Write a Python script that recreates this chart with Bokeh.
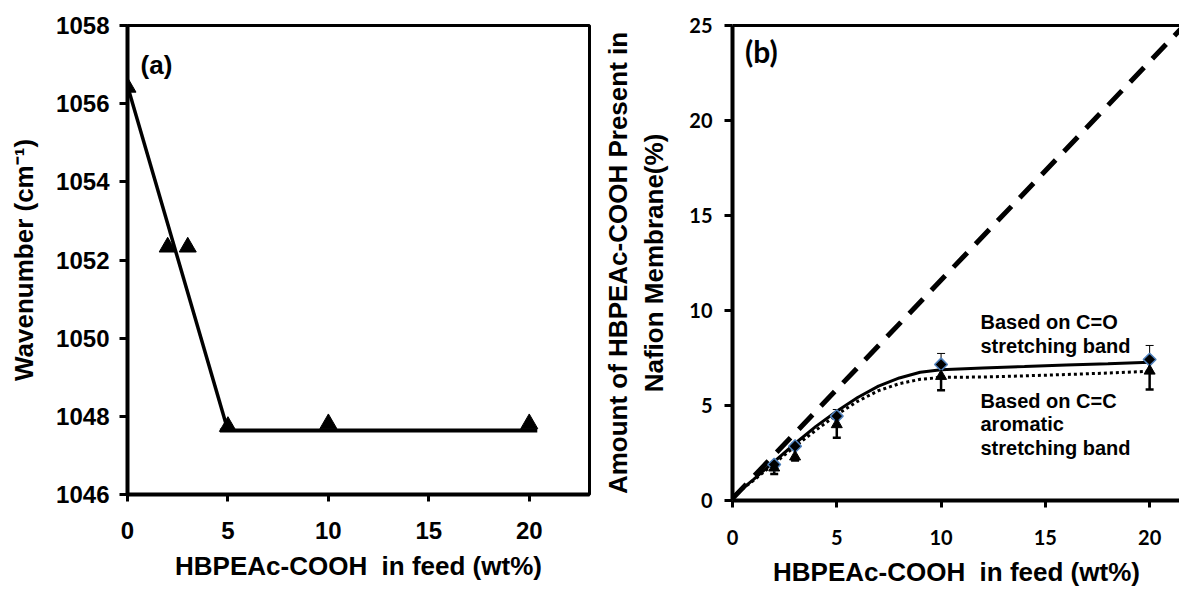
import math
from bokeh.plotting import figure
from bokeh.models import Range1d, FixedTicker, LinearAxis, Whisker, ColumnDataSource, TeeHead
from bokeh.layouts import row
from bokeh.embed import file_html
from bokeh.resources import INLINE
from bokeh.core.properties import value

# ---------------- data: panel (a) ----------------
feed_a = [0, 2, 3, 5, 10, 20]
wavenumber = [1056.42, 1052.33, 1052.33, 1047.74, 1047.81, 1047.81]
drop_x = [0, 5]
drop_y = [1056.45, 1047.64]
plateau_x = [4.6, 20.4]
plateau_y = [1047.64, 1047.64]
ticks_a_x = [0, 5, 10, 15, 20]
ticks_a_y = [1046, 1048, 1050, 1052, 1054, 1056, 1058]

# ---------------- data: panel (b) ----------------
feed_b = [2, 3, 5, 10, 20]
co_vals = [1.89, 2.86, 4.44, 7.16, 7.42]
co_err_plus = [0.15, 0.15, 0.35, 0.58, 0.74]
cc_vals = [1.72, 2.3, 4.0, 6.54, 6.82]
cc_err_minus = [0.32, 0.2, 0.7, 0.74, 0.98]
fit_x = [0, 1, 2, 3, 4, 5, 6, 7, 8, 9, 10, 12, 14, 16, 18, 20]
co_fit = [0.2, 1.1, 2.05, 3.0, 3.9, 4.7, 5.42, 6.02, 6.45, 6.75, 6.88, 6.98, 7.05, 7.13, 7.2, 7.28]
cc_fit = [0.2, 1.05, 1.95, 2.85, 3.7, 4.52, 5.22, 5.78, 6.15, 6.38, 6.48, 6.5, 6.56, 6.63, 6.71, 6.8]
ideal_x = [0, 21.48]
ideal_y = [0.1, 24.8]
ticks_b_x = [0, 5, 10, 15, 20]
ticks_b_y = [0, 5, 10, 15, 20, 25]
note_co = ["Based on C=O", "stretching band"]
note_cc = ["Based on C=C", "aromatic", "stretching band"]
x_title = "HBPEAc-COOH\u00a0 in feed (wt%)"

ARIAL = "Liberation Sans"
CALIBRI = "Lato"

def style_axis(ax, font, size, standoff):
    ax.axis_line_width = 4
    ax.axis_line_color = "black"
    ax.major_tick_line_width = 3
    ax.major_tick_out = 8
    ax.major_tick_in = 0
    ax.minor_tick_line_color = None
    ax.major_label_text_font = font
    ax.major_label_text_font_style = "bold"
    ax.major_label_text_font_size = size
    ax.major_label_text_color = "black"
    ax.major_label_standoff = standoff
    ax.axis_label_text_font = ARIAL
    ax.axis_label_text_font_style = "bold"
    ax.axis_label_text_font_size = "26px"
    ax.axis_label_text_color = "black"

# ---------------- panel (a) ----------------
pa = figure(frame_width=462, frame_height=469, output_backend="svg", toolbar_location=None,
            x_range=Range1d(0, 23), y_range=Range1d(1046, 1058),
            min_border_left=127, min_border_right=11, min_border_top=25, min_border_bottom=96)
pa.grid.visible = False
pa.outline_line_color = "black"
pa.outline_line_width = 3
pa.outline_line_alpha = 1
pa.background_fill_color = "white"
pa.border_fill_color = "white"

pa.xaxis.ticker = FixedTicker(ticks=ticks_a_x)
pa.yaxis.ticker = FixedTicker(ticks=ticks_a_y)
style_axis(pa.xaxis[0], ARIAL, "24px", 20)
style_axis(pa.yaxis[0], ARIAL, "24px", 10)
pa.xaxis.major_tick_out = 7
pa.xaxis.axis_label = x_title
pa.xaxis.axis_label_standoff = 9
pa.yaxis.axis_label = "Wavenumber (cm\u207b\u00b9)"
pa.yaxis.axis_label_standoff = 14

pa.line(drop_x, drop_y, line_color="black", line_width=3.5)
pa.line(plateau_x, plateau_y, line_color="black", line_width=4)
pa.scatter(feed_a, wavenumber, marker="triangle", size=17, fill_color="black", line_color="black")
pa.text(x=[0.65], y=[1056.98], text=["(a)"], text_font=value(ARIAL), text_font_style="bold",
        text_font_size="26px", text_baseline="middle", text_align="left", text_color="black")

# ---------------- panel (b) ----------------
pb = figure(frame_width=448, frame_height=475, output_backend="svg", toolbar_location=None,
            x_range=Range1d(0, 21.48), y_range=Range1d(0, 25),
            min_border_left=131, min_border_right=0, min_border_top=24, min_border_bottom=91)
pb.grid.visible = False
pb.outline_line_color = None
pb.background_fill_color = "white"
pb.border_fill_color = "white"

pb.xaxis.ticker = FixedTicker(ticks=ticks_b_x)
pb.yaxis.ticker = FixedTicker(ticks=ticks_b_y)
style_axis(pb.xaxis[0], CALIBRI, "20px", 22)
style_axis(pb.yaxis[0], CALIBRI, "20px", 12)
pb.xaxis.major_tick_out = 7
pb.xaxis.axis_label = x_title
pb.xaxis.axis_label_standoff = 9
pb.yaxis.axis_label = "Amount of HBPEAc-COOH Present in\nNafion Membrane(%)"
pb.yaxis.axis_label_standoff = 17

top_axis = LinearAxis(ticker=FixedTicker(ticks=[]), axis_line_width=3, axis_line_color="black",
                      major_tick_line_color=None, minor_tick_line_color=None,
                      major_tick_out=0, major_label_standoff=0,
                      major_label_text_font_size="0px")
pb.add_layout(top_axis, "above")

pb.line(ideal_x, ideal_y, line_color="black", line_width=5, line_dash="20 12")
pb.line(fit_x, co_fit, line_color="black", line_width=3)
pb.line(fit_x, cc_fit, line_color="black", line_width=3, line_dash="3 3")

co_src = ColumnDataSource(dict(x=feed_b, y=co_vals,
                               up=[v + e for v, e in zip(co_vals, co_err_plus)]))
cc_src = ColumnDataSource(dict(x=feed_b, y=cc_vals,
                               lo=[v - e for v, e in zip(cc_vals, cc_err_minus)]))

pb.add_layout(Whisker(base="x", upper="up", lower="y", source=co_src, dimension="height",
                      line_color="black", line_width=1,
                      upper_head=TeeHead(size=8, line_width=1, line_color="black"), lower_head=None))
pb.add_layout(Whisker(base="x", upper="y", lower="lo", source=cc_src, dimension="height",
                      line_color="black", line_width=2.5,
                      lower_head=TeeHead(size=8, line_width=2.5, line_color="black"), upper_head=None))

pb.scatter("x", "y", source=co_src, marker="square", angle=math.pi / 4, size=9,
           fill_color="black", line_color="#4F81BD", line_width=1.5)
pb.scatter("x", "y", source=cc_src, marker="triangle", size=11,
           fill_color="black", line_color="black")

pb.text(x=[11.89, 11.89], y=[9.38, 8.12], text=note_co, text_font=value(ARIAL),
        text_font_style="bold", text_font_size="20px", text_baseline="middle",
        text_align="left", text_color="black")
pb.text(x=[11.89, 11.89, 11.89], y=[5.23, 4.02, 2.77], text=note_cc, text_font=value(ARIAL),
        text_font_style="bold", text_font_size="20px", text_baseline="middle",
        text_align="left", text_color="black")
pb.text(x=[0.6], y=[23.65], text=["(b)"], text_font=value(CALIBRI), text_font_style="bold",
        text_font_size="30px", text_baseline="middle", text_align="left", text_color="black")

layout = row(pa, pb)
open("out.html", "w").write(file_html(layout, INLINE))
